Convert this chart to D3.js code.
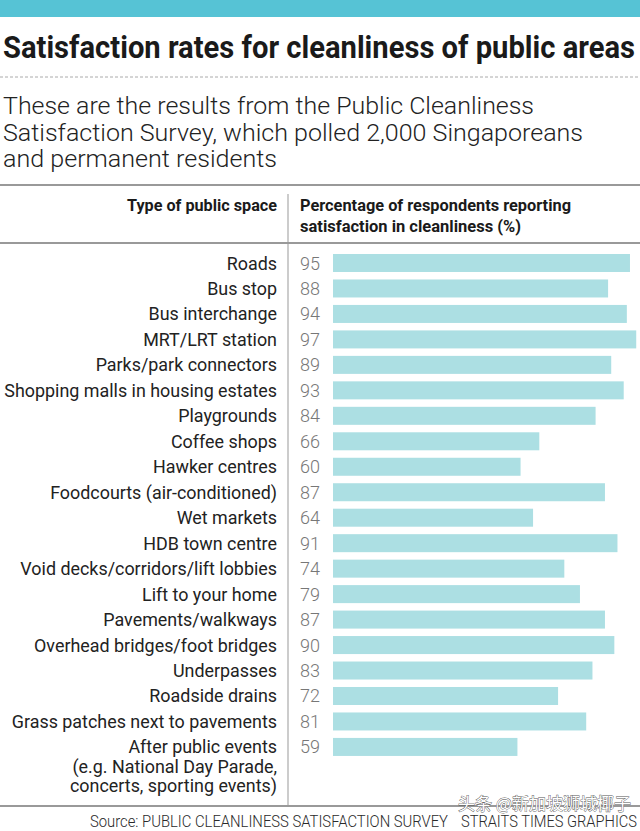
<!DOCTYPE html>
<html><head><meta charset="utf-8">
<script src="https://cdn.jsdelivr.net/npm/d3@7"></script>
<style>html,body{margin:0;padding:0;background:#fff;}svg{display:block;}</style>
</head><body>
<svg id="c" width="640" height="831"></svg>
<script>
const categories = ["Roads","Bus stop","Bus interchange","MRT/LRT station","Parks/park connectors","Shopping malls in housing estates","Playgrounds","Coffee shops","Hawker centres","Foodcourts (air-conditioned)","Wet markets","HDB town centre","Void decks/corridors/lift lobbies","Lift to your home","Pavements/walkways","Overhead bridges/foot bridges","Underpasses","Roadside drains","Grass patches next to pavements","After public events"];
const values = [95,88,94,97,89,93,84,66,60,87,64,91,74,79,87,90,83,72,81,59];
const lastLabelExtra = ["(e.g. National Day Parade,","concerts, sporting events)"];
const title = "Satisfaction rates for cleanliness of public areas";
const subtitle = ["These are the results from the Public Cleanliness","Satisfaction Survey, which polled 2,000 Singaporeans","and permanent residents"];
const colHeadLeft = "Type of public space";
const colHeadRight = ["Percentage of respondents reporting","satisfaction in cleanliness (%)"];
const sourceText = "Source: PUBLIC CLEANLINESS SATISFACTION SURVEY";
const creditText = "STRAITS TIMES GRAPHICS";
const watermark = "头条 @新加坡狮城椰子";

const svg = d3.select("#c");
const SANS = "Roboto, 'Noto Sans', sans-serif";

function fit(sel, w){ const n = sel.node(); if (n.getComputedTextLength() > 0) sel.attr("textLength", w).attr("lengthAdjust","spacingAndGlyphs"); return sel; }

svg.append("rect").attr("x",0).attr("y",0).attr("width",640).attr("height",17).attr("fill","#56c3d5");

fit(svg.append("text").attr("x",3).attr("y",58).attr("font-family",SANS).attr("font-weight","bold")
  .attr("font-size",31).attr("fill","#1a1a1a").text(title), 632);

svg.append("line").attr("x1",0).attr("x2",640).attr("y1",77).attr("y2",77)
  .attr("stroke","#aaa").attr("stroke-width",1).attr("stroke-dasharray","3,2");

const subW = [531, 580, 274];
subtitle.forEach((s,i)=>{
  fit(svg.append("text").attr("x",3).attr("y",114+i*26.5).attr("font-family",SANS).attr("font-weight",300)
    .attr("font-size",24).attr("fill","#222").text(s), subW[i]);
});

svg.append("line").attr("x1",0).attr("x2",640).attr("y1",185).attr("y2",185).attr("stroke","#999").attr("stroke-width",2);
svg.append("line").attr("x1",0).attr("x2",640).attr("y1",243).attr("y2",243).attr("stroke","#999").attr("stroke-width",2);
svg.append("line").attr("x1",0).attr("x2",640).attr("y1",806).attr("y2",806).attr("stroke","#999").attr("stroke-width",2);
svg.append("line").attr("x1",288).attr("x2",288).attr("y1",194).attr("y2",806).attr("stroke","#999").attr("stroke-width",1);

fit(svg.append("text").attr("x",277).attr("y",211).attr("text-anchor","end").attr("font-family",SANS).attr("font-weight","bold")
  .attr("font-size",17).attr("fill","#1a1a1a").text(colHeadLeft), 150);
const chW = [271, 221];
colHeadRight.forEach((s,i)=>{
  fit(svg.append("text").attr("x",300).attr("y",211+i*21).attr("font-family",SANS).attr("font-weight","bold")
    .attr("font-size",17).attr("fill","#1a1a1a").text(s), chW[i]);
});

const step = 25.47;
const y0 = 254 - 0.1465*step;
const y = d3.scaleBand().domain(categories).range([y0, y0 + categories.length*step]).paddingInner(0.293).paddingOuter(0.1465);
const x = d3.scaleLinear().domain([0,100]).range([333, 333 + 312.6]);

const rows = svg.append("g").selectAll("g").data(categories).join("g");
rows.append("rect").attr("x", x(0)).attr("y", d=>y(d)).attr("height", y.bandwidth())
  .attr("width", (d,i)=> x(values[i]) - x(0)).attr("fill","#acdfe3");
rows.append("text").attr("x",277).attr("y", d=>y(d)+y.bandwidth()/2+6.5).attr("text-anchor","end")
  .attr("font-family",SANS).attr("font-weight",400).attr("font-size",17.9).attr("fill","#222").text(d=>d);
rows.append("text").attr("x",300).attr("y", d=>y(d)+y.bandwidth()/2+6.5)
  .attr("font-family",SANS).attr("font-weight",300).attr("font-size",18).attr("fill","#777").text((d,i)=>values[i]);

const lastC = y(categories[categories.length-1]) + y.bandwidth()/2 + 6.5;
lastLabelExtra.forEach((s,i)=>{
  svg.append("text").attr("x",277).attr("y", lastC + 19.5*(i+1)).attr("text-anchor","end")
    .attr("font-family",SANS).attr("font-weight",400).attr("font-size",17.9).attr("fill","#222").text(s);
});

fit(svg.append("text").attr("x",90).attr("y",827).attr("font-family",SANS).attr("font-weight",300)
  .attr("font-size",16).attr("fill","#2a2a2a").text(sourceText), 358);
fit(svg.append("text").attr("x",461).attr("y",827).attr("font-family",SANS).attr("font-weight",300)
  .attr("font-size",16).attr("fill","#2a2a2a").text(creditText), 176);

svg.append("text").attr("x",458).attr("y",810).attr("font-family","'Noto Sans CJK SC', sans-serif")
  .attr("font-size",17).attr("fill","#fff").attr("stroke","#555").attr("stroke-width",0.8).attr("paint-order","stroke")
  .text(watermark);
</script>
</body></html>
